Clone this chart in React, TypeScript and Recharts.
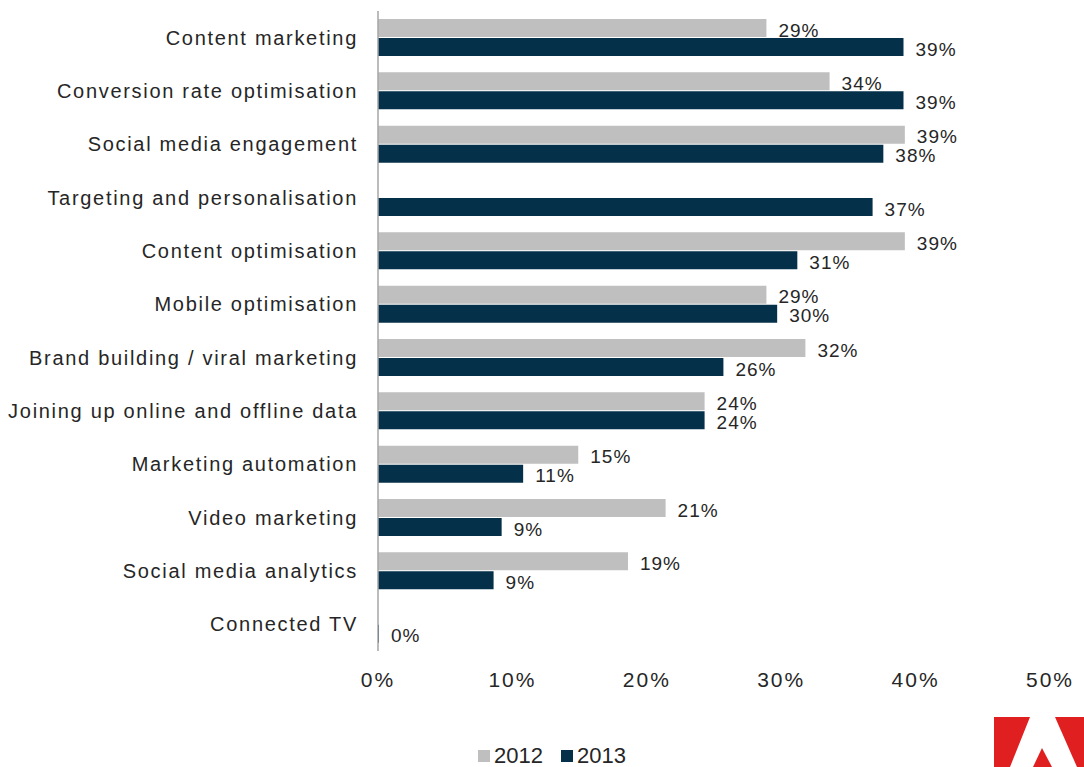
import React from 'react';
import { BarChart, Bar, XAxis, YAxis, Legend, LabelList } from 'recharts';

const categories = [
  'Content marketing',
  'Conversion rate optimisation',
  'Social media engagement',
  'Targeting and personalisation',
  'Content optimisation',
  'Mobile optimisation',
  'Brand building / viral marketing',
  'Joining up online and offline data',
  'Marketing automation',
  'Video marketing',
  'Social media analytics',
  'Connected TV',
];
const values2012: (number | null)[] = [28.9, 33.6, 39.2, null, 39.2, 28.9, 31.8, 24.3, 14.9, 21.4, 18.6, null];
const values2013: (number | null)[] = [39.1, 39.1, 37.6, 36.8, 31.2, 29.7, 25.7, 24.3, 10.8, 9.2, 8.6, 0];
const xTicks = [0, 10, 20, 30, 40, 50];

const data = categories.map((c, i) => ({ name: c, y2012: values2012[i], y2013: values2013[i] }));

const FONT = '"Liberation Sans", Arial, sans-serif';
const GREY = '#bfbfbf';
const NAVY = '#04304a';
const TXT = '#262626';

const valueLabel = (props: any) => {
  const { x, y, width, height, value } = props;
  if (value == null) return null;
  return (
    <text x={x + width + 12} y={y + height / 2 + 2} dy="0.35em" fontSize={19} letterSpacing={1}
      fill={TXT} fontFamily={FONT} textAnchor="start">{Math.round(value)}%</text>
  );
};

const legendContent = () => (
  <div style={{ display: 'flex', justifyContent: 'center', alignItems: 'center', fontFamily: FONT, fontSize: 22, lineHeight: '20px', color: TXT }}>
    <span style={{ width: 12, height: 12, background: GREY, display: 'inline-block', marginRight: 4 }} />
    <span style={{ marginRight: 18 }}>2012</span>
    <span style={{ width: 12, height: 12, background: NAVY, display: 'inline-block', marginRight: 4 }} />
    <span>2013</span>
  </div>
);

export default function App() {
  return (
    <div style={{ position: 'absolute', left: 0, top: 0, width: 1084, height: 767, background: '#fff', overflow: 'hidden' }}>
      <BarChart width={1084} height={767} data={data} layout="vertical" barSize={18} barGap={1}
        margin={{ top: 11, right: 34, bottom: 86, left: 0 }}>
        <XAxis type="number" domain={[0, 50]} ticks={xTicks} axisLine={false} tickLine={false}
          tickSize={0} tickMargin={21} height={30} interval={0}
          tickFormatter={(v) => `${v}%`}
          tick={{ fill: TXT, fontSize: 21, fontFamily: FONT, letterSpacing: 2 }} />
        <YAxis type="category" dataKey="name" width={378} axisLine={{ stroke: '#a6a6a6', strokeWidth: 1.5 }}
          tickLine={false} tickSize={0} tickMargin={20} interval={0}
          tick={{ fill: TXT, fontSize: 20, fontFamily: FONT, letterSpacing: 1.7 }} />
        <Legend layout="horizontal" verticalAlign="middle" align="center" content={legendContent}
          wrapperStyle={{ top: 746, left: 10, width: 1084, height: 20 }} />
        <Bar dataKey="y2012" name="2012" fill={GREY} isAnimationActive={false}>
          <LabelList dataKey="y2012" content={valueLabel} />
        </Bar>
        <Bar dataKey="y2013" name="2013" fill={NAVY} minPointSize={1} isAnimationActive={false}>
          <LabelList dataKey="y2013" content={valueLabel} />
        </Bar>
      </BarChart>
      <svg width={1084} height={767} style={{ position: 'absolute', left: 0, top: 0, pointerEvents: 'none' }}>
        <polygon points="994,717 1030,717 1010,767 994,767" fill="#e02020" />
        <polygon points="1055,717 1084,717 1084,767 1077,767" fill="#e02020" />
        <polygon points="1042,748 1052,767 1033,767" fill="#e02020" />
      </svg>
    </div>
  );
}
